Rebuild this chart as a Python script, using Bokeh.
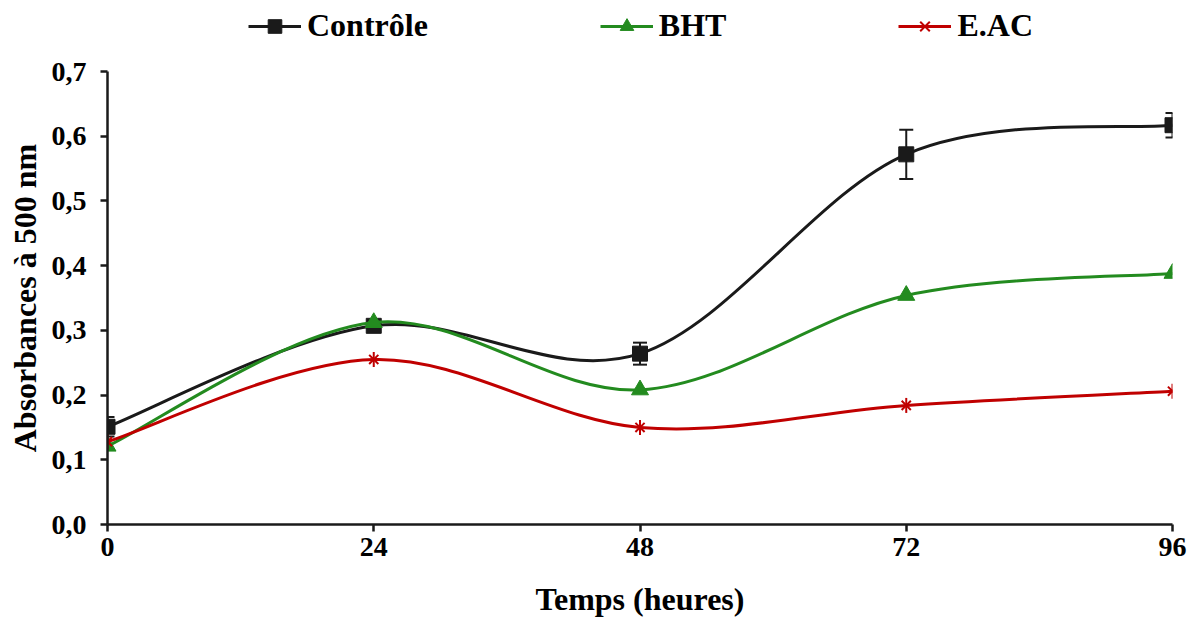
from bokeh.plotting import figure
from bokeh.layouts import column
from bokeh.models import (ColumnDataSource, Legend, LegendItem, Whisker, TeeHead,
                          FixedTicker, CustomJSTickFormatter, Range1d)
from bokeh.embed import file_html
from bokeh.resources import INLINE

# ---- data ----
hours = [0, 24, 48, 72, 96]
controle = [0.151, 0.307, 0.264, 0.572, 0.617]
controle_err = [0.015, 0.004, 0.017, 0.038, 0.019]
bht = [0.121, 0.312, 0.208, 0.354, 0.388]
eac = [0.128, 0.255, 0.150, 0.184, 0.206]
y_ticks = [0.0, 0.1, 0.2, 0.3, 0.4, 0.5, 0.6, 0.7]
x_ticks = [0, 24, 48, 72, 96]
series_names = ["Contrôle", "BHT", "E.AC"]

FONT = "Liberation Serif"
BLACK = "#1a1a1a"
GREEN = "#238b1f"
RED = "#c00000"
NAN = float("nan")


def smooth_segments(xs, ys):
    """Catmull-Rom style bezier control points (Excel-like smoothed line)."""
    n = len(xs)
    seg = dict(x0=[], y0=[], x1=[], y1=[], cx0=[], cy0=[], cx1=[], cy1=[])
    for i in range(n - 1):
        im1 = max(i - 1, 0)
        ip2 = min(i + 2, n - 1)
        seg["x0"].append(xs[i]); seg["y0"].append(ys[i])
        seg["x1"].append(xs[i + 1]); seg["y1"].append(ys[i + 1])
        seg["cx0"].append(xs[i] + (xs[i + 1] - xs[im1]) / 6.0)
        seg["cy0"].append(ys[i] + (ys[i + 1] - ys[im1]) / 6.0)
        seg["cx1"].append(xs[i + 1] - (xs[ip2] - xs[i]) / 6.0)
        seg["cy1"].append(ys[i + 1] - (ys[ip2] - ys[i]) / 6.0)
    return ColumnDataSource(seg)


# ---------------- main chart ----------------
p = figure(width=1198, height=571, output_backend="svg", toolbar_location=None,
           x_range=Range1d(0, 96), y_range=Range1d(0, 0.7),
           min_border_left=107, min_border_right=26, min_border_bottom=98,
           min_border_top=20)
p.outline_line_color = None
p.grid.visible = False
p.background_fill_color = "white"

for ax in (p.xaxis[0], p.yaxis[0]):
    ax.axis_line_width = 2.5
    ax.axis_line_color = BLACK
    ax.major_tick_line_width = 2.5
    ax.major_tick_line_color = BLACK
    ax.major_tick_in = 0
    ax.major_tick_out = 7
    ax.minor_tick_line_color = None
    ax.major_label_text_font = FONT
    ax.major_label_text_font_style = "bold"
    ax.major_label_text_font_size = "28px"
    ax.major_label_text_color = "black"
    ax.axis_label_text_font = FONT
    ax.axis_label_text_font_style = "bold"
    ax.axis_label_text_font_size = "32px"
    ax.axis_label_text_color = "black"

p.xaxis.ticker = FixedTicker(ticks=x_ticks)
p.yaxis.ticker = FixedTicker(ticks=y_ticks)
p.yaxis.formatter = CustomJSTickFormatter(code="return tick.toFixed(1).replace('.', ',');")
p.xaxis.axis_label = "Temps (heures)"
p.yaxis.axis_label = "Absorbances à 500 nm"
p.xaxis.major_label_standoff = 6
p.xaxis.axis_label_standoff = 22
p.yaxis.major_label_standoff = 14
p.yaxis.axis_label_standoff = 6

# Contrôle
src_c = ColumnDataSource(dict(x=hours, y=controle,
                              upper=[v + e for v, e in zip(controle, controle_err)],
                              lower=[v - e for v, e in zip(controle, controle_err)]))
p.bezier(x0="x0", y0="y0", x1="x1", y1="y1", cx0="cx0", cy0="cy0", cx1="cx1", cy1="cy1",
         source=smooth_segments(hours, controle), line_color=BLACK, line_width=3)
wh = Whisker(base="x", upper="upper", lower="lower", source=src_c,
             line_color=BLACK, line_width=2,
             upper_head=TeeHead(size=14, line_color=BLACK, line_width=2),
             lower_head=TeeHead(size=14, line_color=BLACK, line_width=2))
p.add_layout(wh)
p.scatter(x="x", y="y", source=src_c, marker="square", size=15,
          fill_color=BLACK, line_color=BLACK)

# BHT
src_b = ColumnDataSource(dict(x=hours, y=bht))
p.bezier(x0="x0", y0="y0", x1="x1", y1="y1", cx0="cx0", cy0="cy0", cx1="cx1", cy1="cy1",
         source=smooth_segments(hours, bht), line_color=GREEN, line_width=3)
p.scatter(x="x", y="y", source=src_b, marker="triangle", size=17,
          fill_color=GREEN, line_color=GREEN)

# E.AC
src_e = ColumnDataSource(dict(x=hours, y=eac))
p.bezier(x0="x0", y0="y0", x1="x1", y1="y1", cx0="cx0", cy0="cy0", cx1="cx1", cy1="cy1",
         source=smooth_segments(hours, eac), line_color=RED, line_width=3)
p.scatter(x="x", y="y", source=src_e, marker="x", size=13, line_color=RED, line_width=2)
p.scatter(x="x", y="y", source=src_e, marker="dash", size=15, angle=1.5708,
          line_color=RED, line_width=2)

# ---------------- legend strip ----------------
lg = figure(width=1198, height=51, output_backend="svg", toolbar_location=None,
            x_axis_type=None, y_axis_type=None, x_range=Range1d(0, 1), y_range=Range1d(0, 1),
            min_border=0)
lg.outline_line_color = None
lg.grid.visible = False

items = []
l1 = lg.line(x=[NAN], y=[NAN], line_color=BLACK, line_width=3)
m1 = lg.scatter(x=[NAN], y=[NAN], marker="square", fill_color=BLACK, line_color=BLACK)
items.append(LegendItem(label=series_names[0], renderers=[l1, m1]))
l2 = lg.line(x=[NAN], y=[NAN], line_color=GREEN, line_width=3)
m2 = lg.scatter(x=[NAN], y=[NAN], marker="triangle", fill_color=GREEN, line_color=GREEN)
items.append(LegendItem(label=series_names[1], renderers=[l2, m2]))
l3 = lg.line(x=[NAN], y=[NAN], line_color=RED, line_width=3)
m3 = lg.scatter(x=[NAN], y=[NAN], marker="x", line_color=RED, line_width=2)
m4 = lg.scatter(x=[NAN], y=[NAN], marker="dash", angle=1.5708, line_color=RED, line_width=2)
items.append(LegendItem(label=series_names[2], renderers=[l3, m3, m4]))

legend = Legend(items=items, orientation="horizontal", location=(141, 7),
                label_text_font=FONT, label_text_font_style="bold",
                label_text_font_size="32px", label_text_color="black",
                glyph_width=53, glyph_height=34, label_standoff=6, spacing=172,
                padding=4, margin=0, border_line_color=None,
                background_fill_alpha=0)
lg.add_layout(legend, "center")

layout = column(lg, p, spacing=0)
open("out.html", "w").write(file_html(layout, INLINE))
